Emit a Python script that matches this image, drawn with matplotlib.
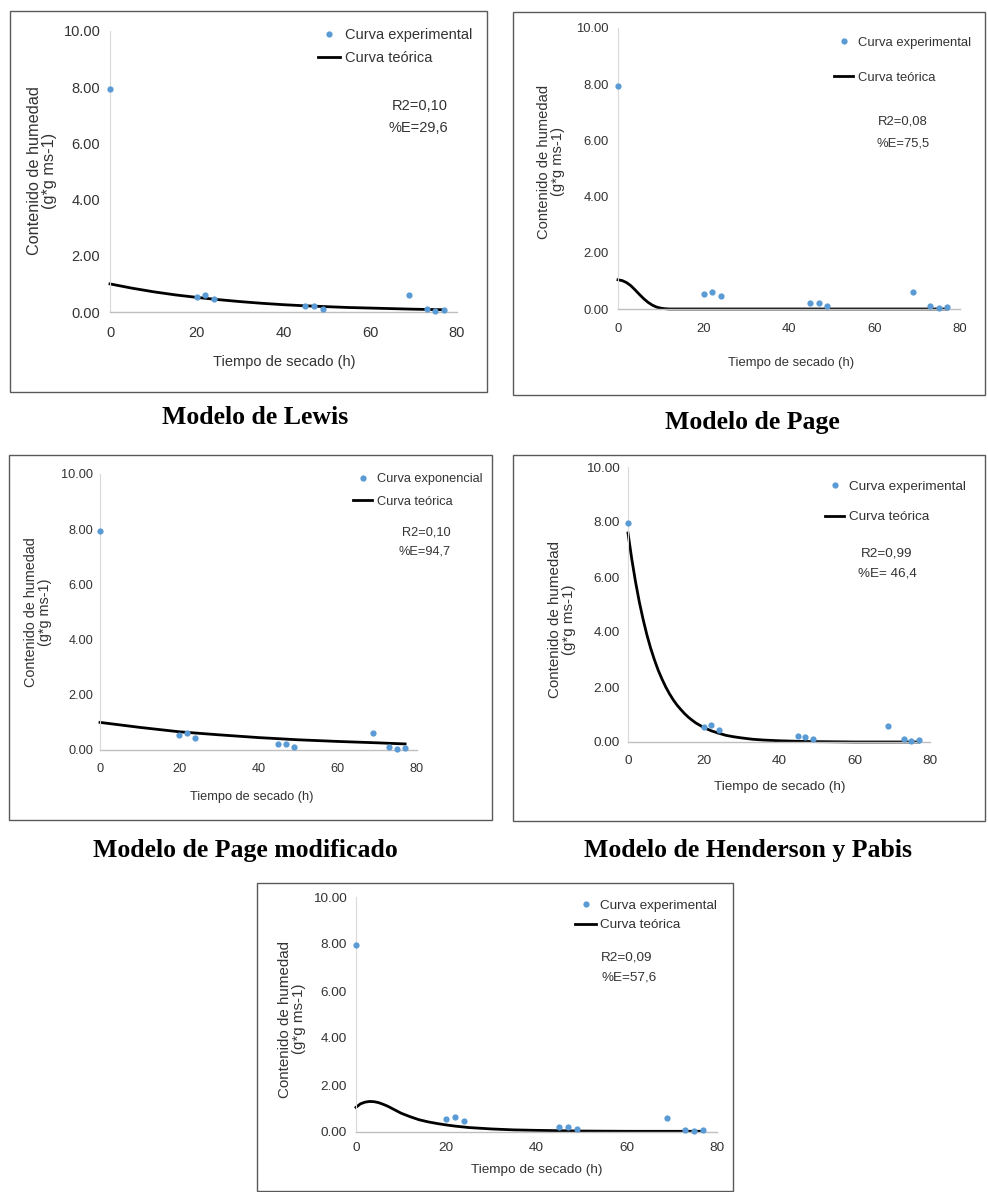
#!/usr/bin/env python3
import matplotlib
matplotlib.use('Agg')
import matplotlib.pyplot as plt
from matplotlib.patches import Rectangle

# experimental drying data (same in every panel)
t_exp = [0, 20, 22, 24, 45, 47, 49, 69, 73, 75, 77]
m_exp = [7.95, 0.55, 0.62, 0.45, 0.22, 0.20, 0.12, 0.60, 0.10, 0.04, 0.08]

# theoretical curves
t_lewis = [0, 5, 10, 15, 20, 25, 30, 35, 40, 45, 50, 55, 60, 65, 70, 77]
m_lewis = [1.00, 0.85, 0.72, 0.61, 0.52, 0.44, 0.37, 0.31, 0.26, 0.22, 0.19, 0.16, 0.14, 0.12, 0.10, 0.08]

t_page = [0, 1, 2, 3, 4, 5, 6, 7, 8, 9, 10, 11, 12, 20, 40, 60, 77]
m_page = [1.04, 1.01, 0.94, 0.83, 0.68, 0.52, 0.37, 0.24, 0.14, 0.07, 0.03, 0.01, 0.0, 0.0, 0.0, 0.0, 0.0]

t_pagemod = [0, 10, 20, 30, 40, 50, 60, 70, 77]
m_pagemod = [1.00, 0.82, 0.66, 0.55, 0.45, 0.37, 0.31, 0.26, 0.22]

t_hp = [0, 1, 2, 3, 4, 5, 6, 7, 8, 9, 10, 11, 12, 13, 14, 15, 16, 17, 18, 19, 20,
        22, 24, 26, 28, 30, 33, 36, 40, 45, 50, 55, 60, 77]
m_hp = [7.60, 6.65, 5.82, 5.09, 4.46, 3.90, 3.41, 2.99, 2.61, 2.29, 2.00, 1.75, 1.53, 1.34, 1.18,
        1.03, 0.90, 0.79, 0.69, 0.61, 0.53, 0.41, 0.32, 0.24, 0.19, 0.15, 0.10, 0.07, 0.045,
        0.025, 0.013, 0.007, 0.0, 0.0]

t_five = [0, 1, 2, 3, 4, 5, 6, 7, 8, 9, 10, 12, 14, 16, 18, 20, 22, 25, 30, 35, 40, 50, 60, 70, 77]
m_five = [1.05, 1.20, 1.27, 1.30, 1.29, 1.25, 1.18, 1.10, 1.00, 0.90, 0.80, 0.65, 0.52, 0.43,
          0.36, 0.30, 0.25, 0.19, 0.13, 0.09, 0.07, 0.04, 0.03, 0.03, 0.03]

xticks = [0, 20, 40, 60, 80]
yticks = [0, 2, 4, 6, 8, 10]

W, H = 988, 1192
fig = plt.figure(figsize=(W / 100, H / 100), dpi=100)
plt.rcParams['font.family'] = ['Liberation Sans', 'DejaVu Sans']

BLUE = '#5b9bd5'
TXT = '#333333'

panels = [
    dict(t=t_lewis, m=m_lewis, exp_label='Curva experimental', r2='R2=0,10', err='%E=29,6',
         ax_px=(110, 457, 312, 31), box=(10, 11, 487, 392), fs=10.5,
         ylab=(42, 171), xlab=(284, 362), xpad=10, ypad=7,
         leg=(318, 37, 27, 1.5, 0.35), stat=(448, 106, 128, 'right'),
         title='Modelo de Lewis', title_xy=(255, 418)),
    dict(t=t_page, m=m_page, exp_label='Curva experimental', r2='R2=0,08', err='%E=75,5',
         ax_px=(618, 960, 309, 28), box=(513, 12, 985, 395), fs=9.4,
         ylab=(551, 162), xlab=(791, 363), xpad=10, ypad=6.5,
         leg=(834, 45, 38, 1.47, 0.39), stat=(903, 122, 143, 'center'),
         title='Modelo de Page', title_xy=(752, 423)),
    dict(t=t_pagemod, m=m_pagemod, exp_label='Curva exponencial', r2='R2=0,10', err='%E=94,7',
         ax_px=(100, 417, 750, 474), box=(9, 455, 492, 820), fs=9.2,
         ylab=(38, 612), xlab=(252, 797), xpad=9, ypad=5,
         leg=(353, 481, 26, 1.5, 0.39), stat=(451, 532, 552, 'right'),
         title='Modelo de Page modificado', title_xy=(245, 851)),
    dict(t=t_hp, m=m_hp, exp_label='Curva experimental', r2='R2=0,99', err='%E= 46,4',
         ax_px=(628, 930, 742, 467), box=(513, 455, 985, 821), fs=9.7,
         ylab=(562, 620), xlab=(780, 787), xpad=9.5, ypad=6,
         leg=(825, 489, 34, 1.43, 0.38), stat=(887, 553, 574, 'center'),
         title='Modelo de Henderson y Pabis', title_xy=(748, 851)),
    dict(t=t_five, m=m_five, exp_label='Curva experimental', r2='R2=0,09', err='%E=57,6',
         ax_px=(356, 717, 1132, 897), box=(257, 883, 733, 1191), fs=9.7,
         ylab=(292, 1019), xlab=(537, 1170), xpad=7, ypad=6.5,
         leg=(575, 908, 23, 1.58, 0.25), stat=(601, 958, 977, 'left'),
         title=None, title_xy=None),
]


def fx(px):
    return px / W


def fy(py):
    return 1 - py / H


for p in panels:
    x0, x80, y0, y10 = p['ax_px']
    ax = fig.add_axes([fx(x0), fy(y0), (x80 - x0) / W, (y0 - y10) / H])
    fs = p['fs']
    fpx = fs * 100 / 72

    ax.plot(t_exp, m_exp, 'o', color=BLUE, ms=4.5, mew=0, label=p['exp_label'], clip_on=False, zorder=3)
    ax.plot(p['t'], p['m'], color='black', lw=2, label='Curva teórica', clip_on=False, zorder=2)

    ax.set_xlim(0, 80)
    ax.set_ylim(0, 10)
    ax.set_xticks(xticks)
    ax.set_yticks(yticks)
    ax.set_yticklabels(['%.2f' % v for v in yticks])
    ax.tick_params(length=0, labelsize=fs, labelcolor=TXT)
    ax.tick_params(axis='x', pad=p['xpad'])
    ax.tick_params(axis='y', pad=p['ypad'])
    for s in ['top', 'right']:
        ax.spines[s].set_visible(False)
    ax.spines['left'].set_color('#d9d9d9')
    ax.spines['bottom'].set_color('#bfbfbf')
    ax.spines['left'].set_linewidth(0.8)
    ax.spines['bottom'].set_linewidth(1.0)

    # axis titles placed by pixel position
    lx, ly = p['ylab']
    ax.set_ylabel('Contenido de humedad\n(g*g ms-1)', fontsize=fs + 1.2, color=TXT,
                  va='center', ha='center', linespacing=1.05)
    ax.yaxis.set_label_coords((lx - x0) / (x80 - x0), (y0 - ly) / (y0 - y10))
    bx, by = p['xlab']
    ax.set_xlabel('Tiempo de secado (h)', fontsize=fs, color=TXT, va='center')
    ax.xaxis.set_label_coords((bx - x0) / (x80 - x0), (y0 - by) / (y0 - y10))

    hx, r1, gap, hl, hpad = p['leg']
    ax.legend(loc='upper left', bbox_to_anchor=(fx(hx), fy(r1 - 0.62 * fpx)),
              bbox_transform=fig.transFigure, frameon=False, fontsize=fs,
              numpoints=1, handlelength=hl, handletextpad=hpad, borderpad=0,
              borderaxespad=0, labelspacing=gap / fpx - 1.2, labelcolor=TXT)

    sx, sy1, sy2, sha = p['stat']
    fig.text(fx(sx), fy(sy1), p['r2'], ha=sha, va='center', fontsize=fs, color=TXT)
    fig.text(fx(sx), fy(sy2), p['err'], ha=sha, va='center', fontsize=fs, color=TXT)

    bl, bt, br, bb = p['box']
    fig.add_artist(Rectangle((fx(bl), fy(bb)), (br - bl) / W, (bb - bt) / H,
                             transform=fig.transFigure, fill=False, ec='#5a5a5a', lw=1))

    if p['title']:
        tx, ty = p['title_xy']
        fig.text(fx(tx), fy(ty), p['title'], ha='center', va='center',
                 fontsize=18.5, fontweight='bold', family=['Liberation Serif', 'DejaVu Serif'],
                 color='black')

fig.savefig('out.png', dpi=100)
